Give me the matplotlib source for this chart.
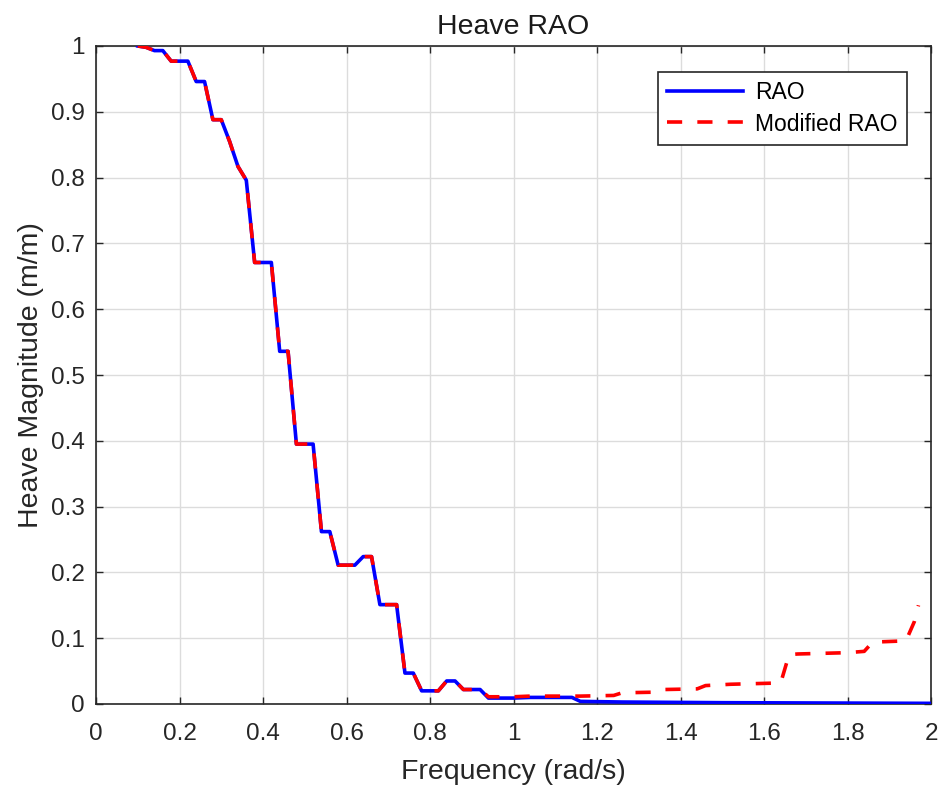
import matplotlib
matplotlib.use('Agg')
import matplotlib.pyplot as plt

plt.rcParams['font.family'] = ['Liberation Sans', 'DejaVu Sans']

# RAO
freq = [0.10, 0.12, 0.14, 0.16, 0.18, 0.22, 0.24, 0.26, 0.28, 0.30, 0.32, 0.34, 0.36,
        0.38, 0.42, 0.44, 0.46, 0.48, 0.52, 0.54, 0.56, 0.58, 0.62, 0.64, 0.66,
        0.68, 0.72, 0.74, 0.76, 0.78, 0.82, 0.84, 0.86, 0.88, 0.92, 0.94,
        1.00, 1.04, 1.14, 1.16, 1.26, 1.50, 2.00]
rao = [1.000, 0.998, 0.993, 0.993, 0.977, 0.977, 0.946, 0.946, 0.888, 0.888, 0.855, 0.817, 0.796,
       0.671, 0.671, 0.536, 0.536, 0.395, 0.395, 0.262, 0.262, 0.211, 0.211, 0.224, 0.224,
       0.151, 0.151, 0.047, 0.047, 0.020, 0.020, 0.035, 0.035, 0.022, 0.022, 0.009,
       0.009, 0.010, 0.010, 0.004, 0.003, 0.002, 0.001]

# Modified RAO: same as RAO up to 0.92, then its own tail
freq_mod = freq[:35] + [0.94, 1.00, 1.04, 1.16, 1.24, 1.26, 1.34, 1.36, 1.44, 1.46, 1.52,
                        1.64, 1.66, 1.68, 1.80, 1.84, 1.86, 1.94, 1.96, 1.97]
rao_mod = rao[:35] + [0.011, 0.011, 0.012, 0.012, 0.013, 0.017, 0.018, 0.022, 0.023, 0.028, 0.030,
                      0.032, 0.075, 0.076, 0.078, 0.080, 0.094, 0.096, 0.125, 0.150]

xticks = [0, 0.2, 0.4, 0.6, 0.8, 1, 1.2, 1.4, 1.6, 1.8, 2]
xticklabels = ['0', '0.2', '0.4', '0.6', '0.8', '1', '1.2', '1.4', '1.6', '1.8', '2']
yticks = [0, 0.1, 0.2, 0.3, 0.4, 0.5, 0.6, 0.7, 0.8, 0.9, 1]
yticklabels = ['0', '0.1', '0.2', '0.3', '0.4', '0.5', '0.6', '0.7', '0.8', '0.9', '1']

fig = plt.figure(figsize=(9.4, 7.88), dpi=100)
ax = fig.add_axes([96/940, 84/788, 835/940, 658/788])

ax.plot(freq, rao, color='#0000ff', linewidth=2.6, label='RAO', zorder=3)
ax.plot(freq_mod, rao_mod, color='#ff0000', linewidth=2.6, dashes=(4.2, 4.2),
        label='Modified RAO', zorder=4)

ax.set_xlim(0, 2)
ax.set_ylim(0, 1)
ax.set_xticks(xticks)
ax.set_xticklabels(xticklabels)
ax.set_yticks(yticks)
ax.set_yticklabels(yticklabels)
ax.tick_params(direction='in', length=5, width=1, colors='#262626', labelsize=17.5,
               top=True, right=True, pad=8)
ax.tick_params(axis='x', pad=14)
ax.grid(True, color='#dcdcdc', linewidth=1)
ax.set_axisbelow(True)
for s in ax.spines.values():
    s.set_color('#262626')
    s.set_linewidth(1.2)

ax.set_title('Heave RAO', fontsize=20.5, color='#1a1a1a', pad=9)
ax.set_xlabel('Frequency (rad/s)', fontsize=20.5, color='#262626', labelpad=10)
ax.set_ylabel('Heave Magnitude (m/m)', fontsize=20.5, color='#262626', labelpad=5)

leg = ax.legend(loc='upper right', bbox_to_anchor=(0.971, 0.96), borderaxespad=0,
                fontsize=16.5, fancybox=False, framealpha=1, edgecolor='#262626',
                handlelength=3.3, borderpad=0.4, labelspacing=0.35, handletextpad=0.55)
leg.get_frame().set_linewidth(1.2)

fig.savefig('out.png', dpi=100)
